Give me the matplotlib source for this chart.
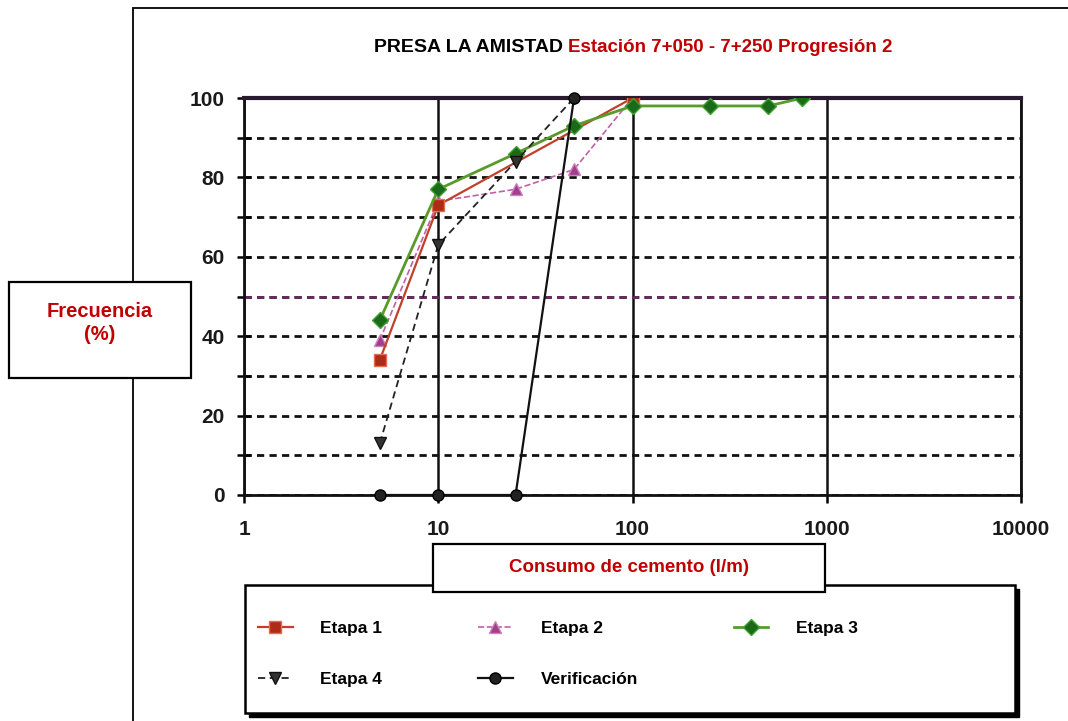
import matplotlib
matplotlib.use("Agg")
import matplotlib.pyplot as plt
from matplotlib.patches import Rectangle
from matplotlib.ticker import FixedLocator, FixedFormatter, NullLocator, MultipleLocator

plt.rcParams['font.family'] = ['Liberation Sans', 'DejaVu Sans']

# data
consumo_e1 = [5, 10, 100]
frec_e1 = [34, 73, 100]

consumo_e2 = [5, 10, 25, 50, 100]
frec_e2 = [39, 74, 77, 82, 100]

consumo_e3 = [5, 10, 25, 50, 100, 250, 500, 750]
frec_e3 = [44, 77, 86, 93, 98, 98, 98, 100]

consumo_e4 = [5, 10, 25, 50]
frec_e4 = [13, 63, 84, 100]

consumo_ver = [5, 10, 25, 50]
frec_ver = [0, 0, 0, 100]

xticks = [1, 10, 100, 1000, 10000]
xtick_labels = ["1", "10", "100", "1000", "10000"]
yticks = [0, 20, 40, 60, 80, 100]

W, H = 1068, 721
RED = '#c00000'


def fx(px):
    return px / W


def fy(py):
    return 1 - py / H


fig = plt.figure(figsize=(W / 100, H / 100), dpi=100)
fig.patch.set_facecolor('white')

# outer frame of the pasted chart
fig.add_artist(Rectangle((fx(133), -0.1), 1.0, fy(8) + 0.1, transform=fig.transFigure,
                         fill=False, edgecolor='black', lw=1.3))

ax = fig.add_axes([fx(244), fy(495), fx(1021 - 244), (495 - 98) / H])
ax.set_xscale('log')
ax.set_xlim(1, 10000)
ax.set_ylim(0, 100)

# grid
dash = (0, (2.6, 1.9))
ax.yaxis.set_major_locator(FixedLocator(yticks))
ax.yaxis.set_minor_locator(MultipleLocator(10))
ax.grid(axis='y', which='both', color='#111111', ls=dash, lw=2.0)
ax.grid(axis='x', which='major', color='#111111', ls='-', lw=1.8)
ax.axhline(50, color='#6a2a60', ls=dash, lw=2.0, zorder=1)
ax.set_axisbelow(True)

ax.plot(consumo_e1, frec_e1, color='#c0402a', lw=1.6, marker='s', ms=9,
        mfc='#b02a18', mec='#e07050', label='Etapa 1', zorder=4)
ax.plot(consumo_e2, frec_e2, color='#c060a8', lw=1.2, ls='--', marker='^', ms=9,
        mfc='#a0408a', mec='#d080c0', label='Etapa 2', zorder=3)
ax.plot(consumo_e3, frec_e3, color='#5a9a2a', lw=2.0, marker='D', ms=8.5,
        mfc='#1a6a1a', mec='#40a030', label='Etapa 3', zorder=5)
ax.plot(consumo_e4, frec_e4, color='#222222', lw=1.3, ls=(0, (4, 2.5)), marker='v', ms=8,
        mfc='#333333', mec='#111111', label='Etapa 4', zorder=6)
ax.plot(consumo_ver, frec_ver, color='#111111', lw=1.6, marker='o', ms=8,
        mfc='#222222', mec='#000000', label='Verificación', zorder=6, clip_on=False)

for s in ['left', 'bottom', 'right']:
    ax.spines[s].set_linewidth(2)
    ax.spines[s].set_color('#111111')
ax.spines['top'].set_linewidth(3)
ax.spines['top'].set_color('#2a1a30')

ax.xaxis.set_major_locator(FixedLocator(xticks))
ax.xaxis.set_major_formatter(FixedFormatter(xtick_labels))
ax.xaxis.set_minor_locator(NullLocator())
ax.tick_params(axis='x', direction='out', length=6, width=1.8, pad=12,
               labelsize=15)
ax.tick_params(axis='y', which='both', direction='inout', length=10, width=1.8,
               pad=9, labelsize=15)
for lab in ax.get_xticklabels() + ax.get_yticklabels():
    lab.set_fontweight('bold')
    lab.set_color('#1a1a1a')

# title in two colours
ty = fy(47)
t1 = fig.text(0, ty, "PRESA LA AMISTAD ", fontsize=14, fontweight='bold',
              color='black', va='center', ha='left')
t2 = fig.text(0, ty, "Estación 7+050 - 7+250 Progresión 2", fontsize=13.5,
              fontweight='bold', color=RED, va='center', ha='left')
r = fig.canvas.get_renderer()
w1 = t1.get_window_extent(r).width
w2 = t2.get_window_extent(r).width
x0 = 633 - (w1 + w2) / 2
t1.set_x(fx(x0))
t2.set_x(fx(x0 + w1))

# y label box
fig.add_artist(Rectangle((fx(9), fy(378)), fx(191 - 9), (378 - 282) / H,
                         transform=fig.transFigure, facecolor='white',
                         edgecolor='black', lw=1.6, zorder=10))
fig.text(fx(100), fy(323), "Frecuencia\n(%)", color=RED, fontsize=14.5,
         fontweight='bold', ha='center', va='center', linespacing=1.3, zorder=11)

# legend box with shadow
fig.add_artist(Rectangle((fx(249), fy(717)), fx(1015 - 245), (713 - 585) / H,
                         transform=fig.transFigure, facecolor='black',
                         edgecolor='black', lw=1, zorder=8))
fig.add_artist(Rectangle((fx(245), fy(713)), fx(1015 - 245), (713 - 585) / H,
                         transform=fig.transFigure, facecolor='white',
                         edgecolor='black', lw=1.8, zorder=9))

# x label box (overlaps legend top)
fig.add_artist(Rectangle((fx(433), fy(592)), fx(825 - 433), (592 - 544) / H,
                         transform=fig.transFigure, facecolor='white',
                         edgecolor='black', lw=1.6, zorder=10))
fig.text(fx(629), fy(568), "Consumo de cemento (l/m)", color=RED, fontsize=13.5,
         fontweight='bold', ha='center', va='center', zorder=11)

h, l = ax.get_legend_handles_labels()
order = [0, 3, 1, 4, 2]
leg = fig.legend([h[i] for i in order], [l[i] for i in order],
                 loc='upper left', bbox_to_anchor=(fx(258), fy(621), fx(600), 0),
                 bbox_transform=fig.transFigure, mode='expand', ncol=3,
                 frameon=False, borderpad=0, borderaxespad=0, handlelength=2.0,
                 handletextpad=1.6, labelspacing=2.05,
                 prop={'weight': 'bold', 'size': 12.5})
leg.set_zorder(12)

fig.savefig('out.png', dpi=100, facecolor='white')
